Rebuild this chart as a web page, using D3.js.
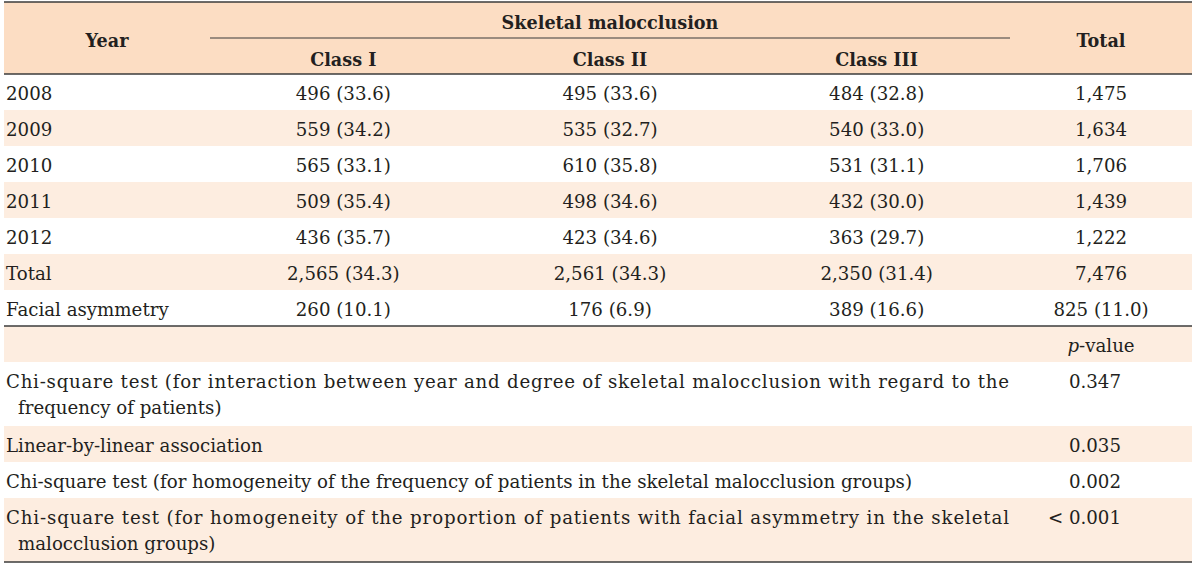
<!DOCTYPE html>
<html><head><meta charset="utf-8">
<script src="https://cdn.jsdelivr.net/npm/d3@7"></script>
<style>
html,body{margin:0;padding:0;background:#fff;}
svg{display:block;}
text{font-family:"DejaVu Serif",serif;fill:#231f20;}
</style></head>
<body><svg id="chart" width="1200" height="565"></svg>
<script>
// ---- data ----
const groupTitle = "Skeletal malocclusion";
const classes = ["Class I", "Class II", "Class III"];
const years = ["2008", "2009", "2010", "2011", "2012"];
const classICount = [496, 559, 565, 509, 436];
const classIPct = [33.6, 34.2, 33.1, 35.4, 35.7];
const classIICount = [495, 535, 610, 498, 423];
const classIIPct = [33.6, 32.7, 35.8, 34.6, 34.6];
const classIIICount = [484, 540, 531, 432, 363];
const classIIIPct = [32.8, 33.0, 31.1, 30.0, 29.7];
const yearTotals = [1475, 1634, 1706, 1439, 1222];
const totalCounts = [2565, 2561, 2350];
const totalPcts = [34.3, 34.3, 31.4];
const grandTotal = 7476;
const asymCounts = [260, 176, 389];
const asymPcts = [10.1, 6.9, 16.6];
const asymTotal = [825, 11.0];
const testLabels = [
  ["Chi-square test (for interaction between year and degree of skeletal malocclusion with regard to the", "frequency of patients)"],
  ["Linear-by-linear association"],
  ["Chi-square test (for homogeneity of the frequency of patients in the skeletal malocclusion groups)"],
  ["Chi-square test (for homogeneity of the proportion of patients with facial asymmetry in the skeletal", "malocclusion groups)"]
];
const testPValues = ["0.347", "0.035", "0.002", "< 0.001"];

// ---- layout ----
const svg = d3.select("#chart");
const L = 4, R = 1192, T = 2, headerH = 72;
const fs = 18.2, fsH = 17.6;
const x = d3.scaleBand().domain(classes).range([210, 1010]);
const yearX = L + 2;
const totalX = 1101;
const colHeader = "#fcddc3", colShade = "#fdede0", lineCol = "#3b3b3b";
const fmtN = d3.format(",");
const fmtP = d3.format(".1f");
const cell = (n, p) => `${fmtN(n)} (${fmtP(p)})`;

// build rows
const rows = [];
years.forEach((yr, i) => rows.push({label: [yr], cells: [cell(classICount[i], classIPct[i]), cell(classIICount[i], classIIPct[i]), cell(classIIICount[i], classIIIPct[i])], total: fmtN(yearTotals[i])}));
rows.push({label: ["Total"], cells: totalCounts.map((c, i) => cell(c, totalPcts[i])), total: fmtN(grandTotal)});
rows.push({label: ["Facial asymmetry"], cells: asymCounts.map((c, i) => cell(c, asymPcts[i])), total: cell(asymTotal[0], asymTotal[1]), ruleAfter: true});
rows.push({label: [], cells: [], total: null, pHeader: true});
testLabels.forEach((lab, i) => rows.push({label: lab, cells: [], total: testPValues[i], test: true}));

let yCur = T + headerH;
rows.forEach((r, i) => {
  const n = Math.max(1, r.label.length);
  r.h = 36 + 28 * (n - 1);
  r.y0 = yCur; yCur += r.h;
  r.shade = i % 2 === 1;
});

// header background
svg.append("rect").attr("x", L).attr("y", T).attr("width", R - L).attr("height", headerH).attr("fill", colHeader);
// row backgrounds
svg.selectAll("rect.row").data(rows.filter(r => r.shade)).join("rect")
  .attr("x", L).attr("y", d => d.y0).attr("width", R - L).attr("height", d => d.h).attr("fill", colShade);

// header texts
const hdr = svg.append("g").style("font-weight", "bold").style("font-size", fsH + "px");
hdr.append("text").attr("x", (L + 210) / 2).attr("y", T + 45).attr("text-anchor", "middle").text("Year");
hdr.append("text").attr("x", totalX).attr("y", T + 45).attr("text-anchor", "middle").text("Total");
hdr.append("text").attr("x", (x.range()[0] + x.range()[1]) / 2).attr("y", T + 27).attr("text-anchor", "middle").text(groupTitle);
hdr.selectAll("text.cls").data(classes).join("text").attr("class", "cls")
  .attr("x", d => x(d) + x.bandwidth() / 2).attr("y", T + 64).attr("text-anchor", "middle").text(d => d);

// body texts
const body = svg.append("g").style("font-size", fs + "px");
rows.forEach(r => {
  r.label.forEach((t, k) => {
    const tx = body.append("text").attr("x", yearX + (k > 0 ? 12 : 0)).attr("y", r.y0 + 26 + 26 * k).text(t);
    if (r.test && r.label.length > 1 && k === 0) tx.attr("textLength", 1003).attr("lengthAdjust", "spacing");
  });
  r.cells.forEach((c, j) => {
    body.append("text").attr("x", x(classes[j]) + x.bandwidth() / 2).attr("y", r.y0 + 26).attr("text-anchor", "middle").text(c);
  });
  if (r.total !== null) {
    const tt = body.append("text").attr("y", r.y0 + 26);
    if (r.test) tt.attr("x", 1121).attr("text-anchor", "end");
    else tt.attr("x", totalX).attr("text-anchor", "middle");
    tt.text(r.total);
  }
  if (r.pHeader) {
    const t = body.append("text").attr("x", totalX).attr("y", r.y0 + 26).attr("text-anchor", "middle");
    t.append("tspan").style("font-style", "italic").text("p");
    t.append("tspan").text("-value");
  }
});

// rules
const rule = (y, x1, x2, w) => svg.append("line").attr("x1", x1).attr("x2", x2).attr("y1", y).attr("y2", y).attr("stroke", lineCol).attr("stroke-width", w);
rule(T, L, R, 1.6);
rule(T + 36, x.range()[0], x.range()[1], 1.2);
rule(T + headerH, L, R, 1.6);
const fa = rows.find(r => r.ruleAfter);
rule(fa.y0 + fa.h, L, R, 1.6);
rule(yCur, L, R, 1.6);
</script></body></html>
